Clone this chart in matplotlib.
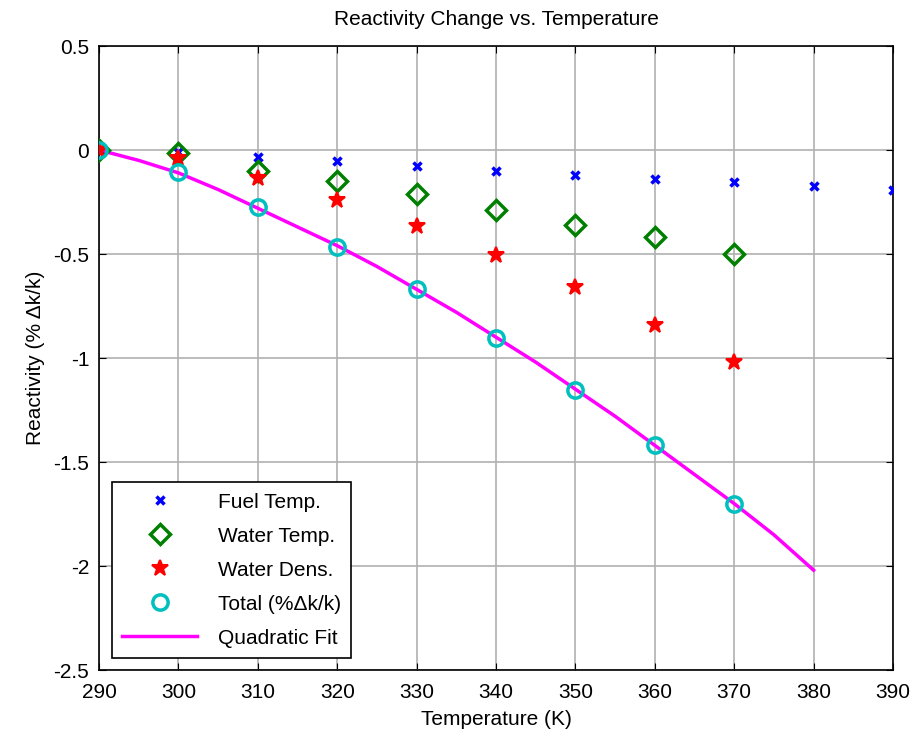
import matplotlib
matplotlib.use('Agg')
import matplotlib.pyplot as plt

plt.rcParams['font.family'] = ['Liberation Sans', 'DejaVu Sans']

temps = [290, 300, 310, 320, 330, 340, 350, 360, 370, 380, 390]
fuel = [0, -0.01, -0.035, -0.055, -0.075, -0.10, -0.12, -0.14, -0.155, -0.175, -0.19]

temps_w = [290, 300, 310, 320, 330, 340, 350, 360, 370]
water_temp = [0, -0.015, -0.10, -0.15, -0.21, -0.29, -0.36, -0.42, -0.50]
water_dens = [0, -0.04, -0.135, -0.24, -0.365, -0.505, -0.66, -0.84, -1.02]
total = [0, -0.105, -0.275, -0.465, -0.67, -0.905, -1.155, -1.42, -1.70]

fit_t = [290, 295, 300, 305, 310, 315, 320, 325, 330, 335, 340, 345, 350,
         355, 360, 365, 370, 375, 380]
fit_y = [0, -0.05, -0.11, -0.19, -0.28, -0.37, -0.46, -0.56, -0.67, -0.78,
         -0.90, -1.02, -1.15, -1.28, -1.42, -1.56, -1.70, -1.85, -2.02]

fig = plt.figure(figsize=(9.14, 7.36), dpi=100)
ax = fig.add_axes([99/914, 1 - 670/736, 794/914, 624/736])

ax.plot(temps, fuel, 'x', color='blue', markersize=6, mew=2.5, label='Fuel Temp.', zorder=3)
ax.plot(temps_w, water_temp, 'D', color='green', mfc='none', markersize=10, mew=2.5,
        label='Water Temp.', zorder=3)
ax.plot(temps_w, water_dens, '*', color='red', markersize=12, mew=1.5, label='Water Dens.', zorder=3)
ax.plot(temps_w, total, 'o', color='#00BFBF', mfc='none', markersize=11, mew=2.5,
        label='Total (%\u0394k/k)', zorder=3)
ax.plot(fit_t, fit_y, '-', color='magenta', linewidth=2.5, label='Quadratic Fit', zorder=2)

ax.set_xlim(290, 390)
ax.set_ylim(-2.5, 0.5)
ax.set_xticks(range(290, 391, 10))
ax.set_yticks([-2.5, -2, -1.5, -1, -0.5, 0, 0.5])
ax.set_yticklabels(['-2.5', '-2', '-1.5', '-1', '-0.5', '0', '0.5'])
ax.grid(True, color='#b0b0b0', linewidth=1.2)
ax.tick_params(direction='in', top=True, right=True, labelsize=15, length=5)
ax.tick_params(axis='x', pad=9)
ax.tick_params(axis='y', pad=7)
for s in ax.spines.values():
    s.set_linewidth(1.2)

ax.set_title('Reactivity Change vs. Temperature', fontsize=15, pad=15)
ax.set_xlabel('Temperature (K)', fontsize=15, labelpad=6)
ax.set_ylabel('Reactivity (% \u0394k/k)', fontsize=15, labelpad=6)

leg = ax.legend(loc='lower left', bbox_to_anchor=(0.016, 0.019), borderaxespad=0,
                fontsize=15, fancybox=False, edgecolor='black', framealpha=1,
                handlelength=3.6, borderpad=0.5, labelspacing=0.72, handletextpad=1.0)
leg.get_frame().set_linewidth(1.2)

plt.savefig('out.png')
